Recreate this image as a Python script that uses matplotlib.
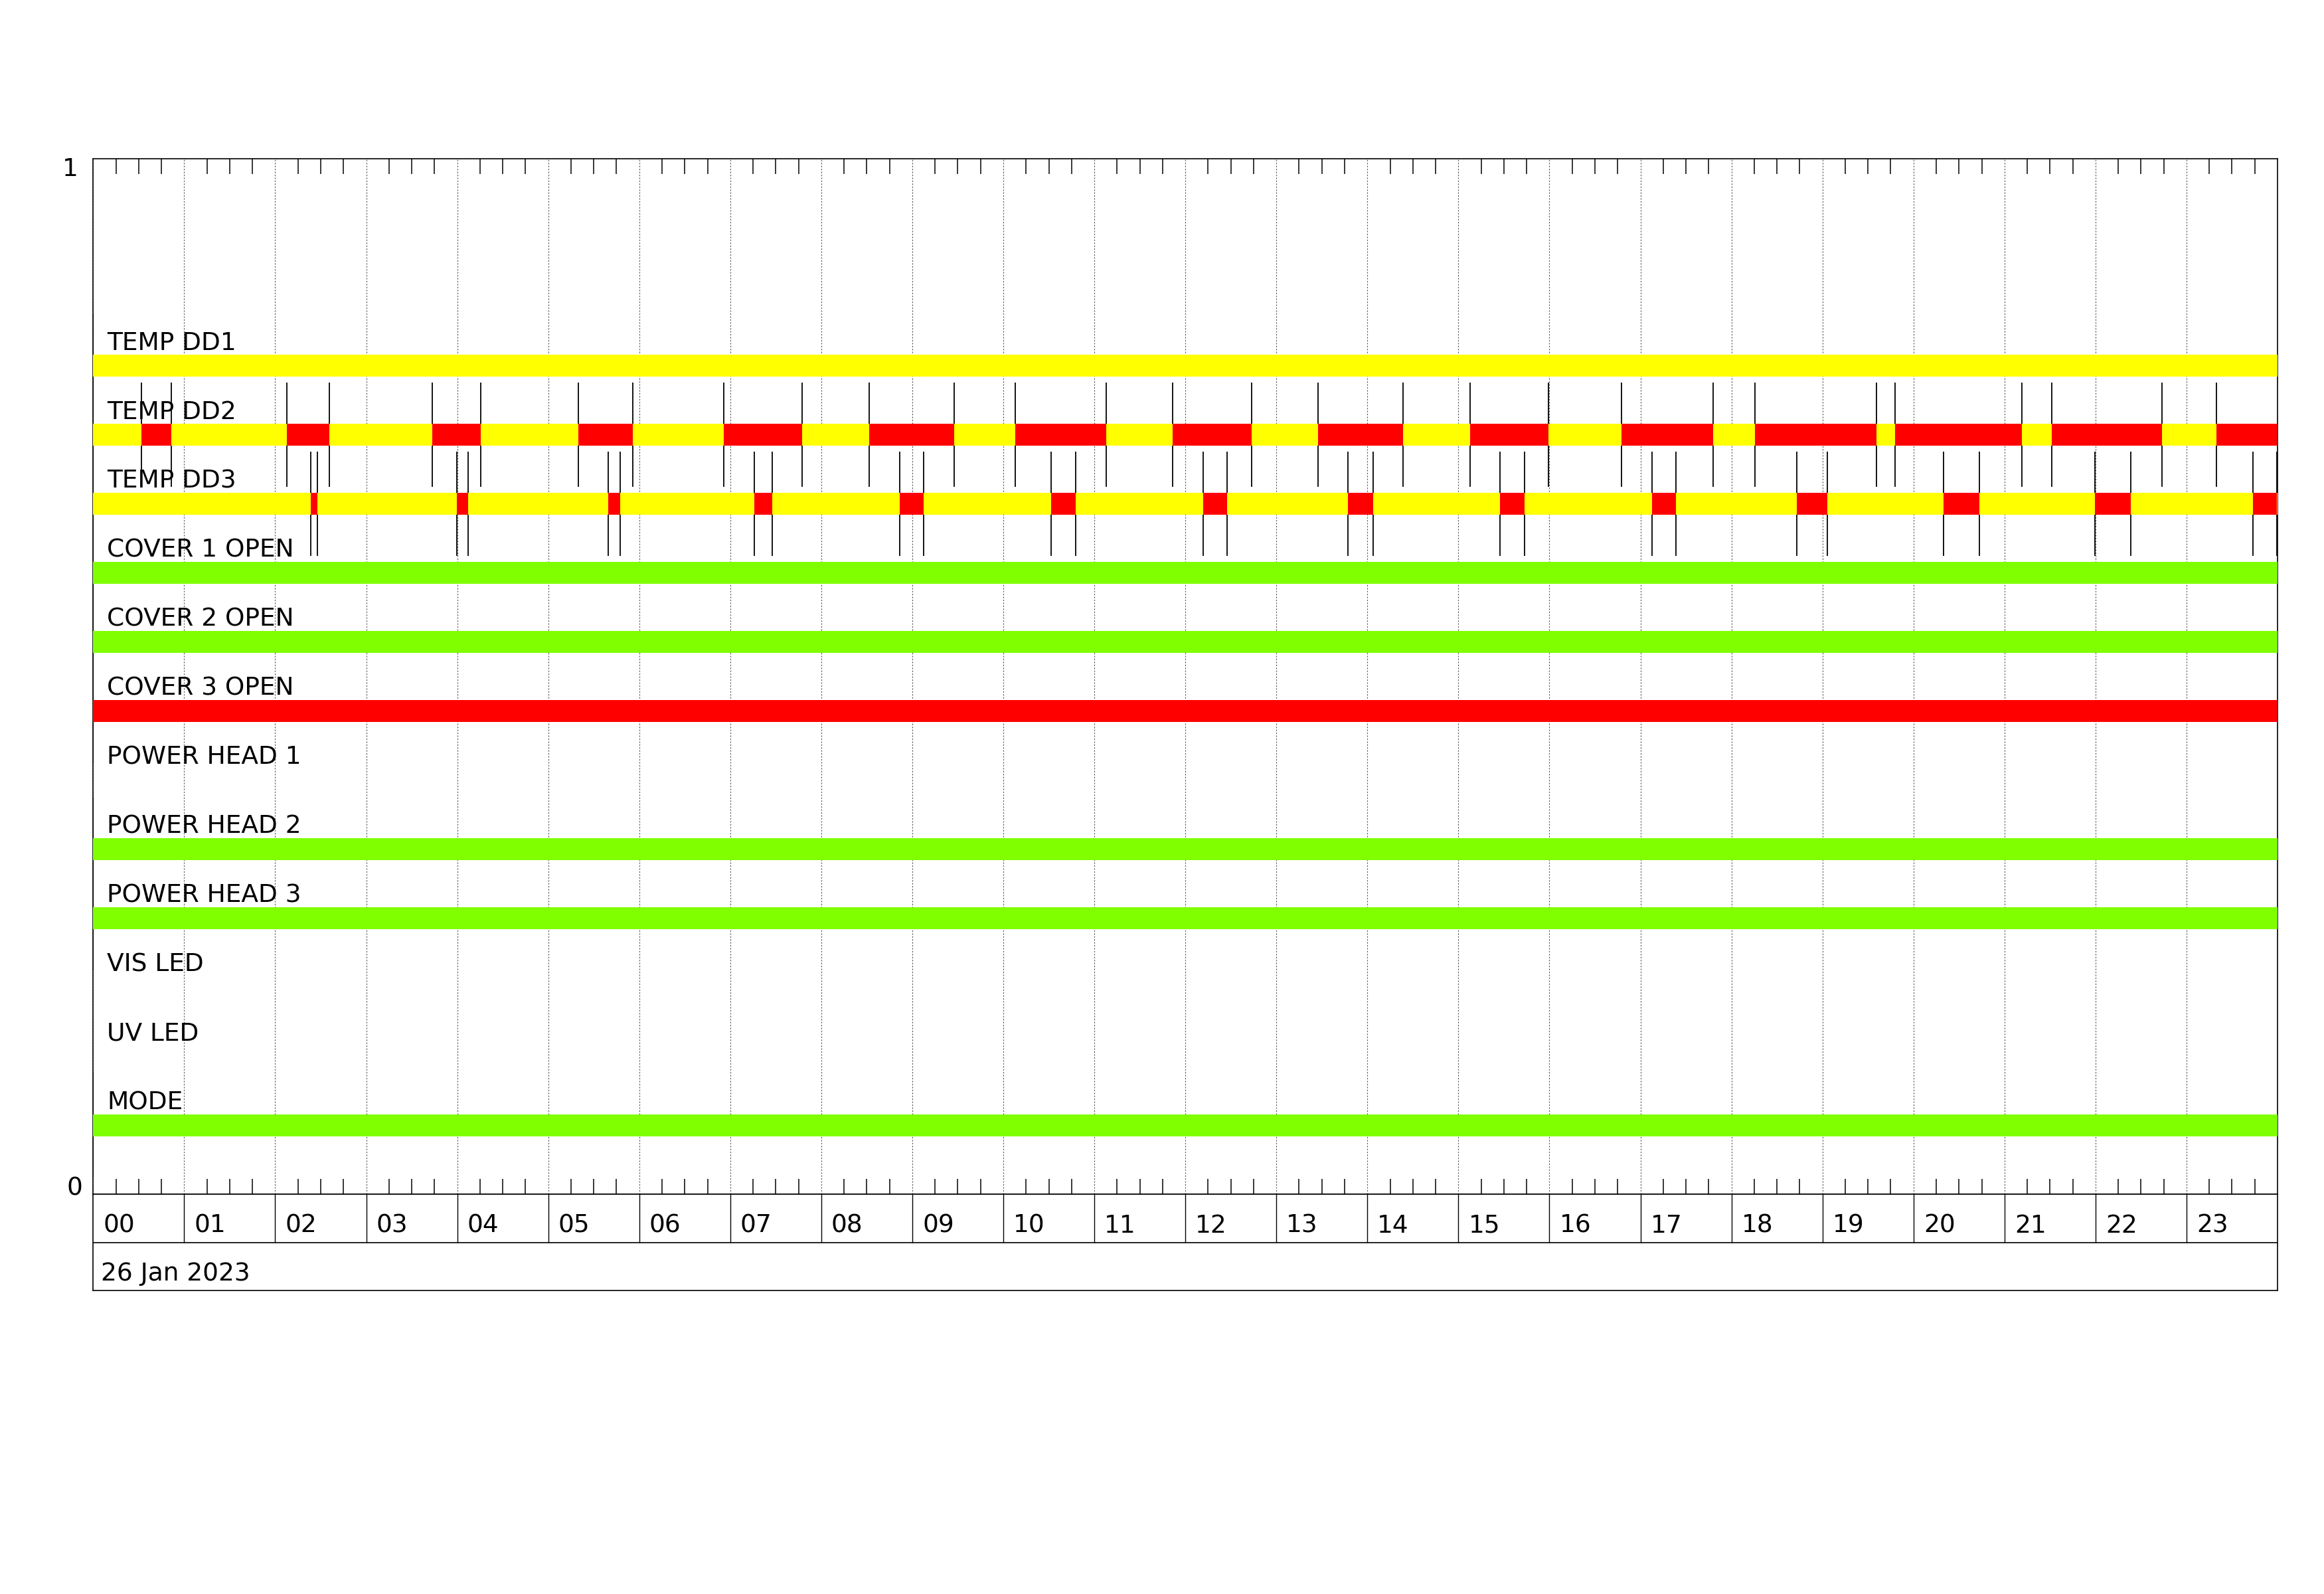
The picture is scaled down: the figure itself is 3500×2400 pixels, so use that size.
import matplotlib
matplotlib.use("Agg")
import matplotlib.pyplot as plt

# ---------------------------------------------------------------
#  DATA  (times in hours of 26 Jan 2023)
# ---------------------------------------------------------------
DATE_LABEL = "26 Jan 2023"
HOUR_LABELS = [f"{h:02d}" for h in range(24)]

ROW_LABELS = [
    "TEMP DD1", "TEMP DD2", "TEMP DD3",
    "COVER 1 OPEN", "COVER 2 OPEN", "COVER 3 OPEN",
    "POWER HEAD 1", "POWER HEAD 2", "POWER HEAD 3",
    "VIS LED", "UV LED", "MODE",
]

DD1_EDGES = [0.0, 24.0]
DD1_STATES = ["Y"]

DD2_EDGES = [0.0, 0.530, 0.857, 2.126, 2.592, 3.728, 4.255, 5.330, 5.928,
             6.926, 7.793, 8.525, 9.457, 10.131, 11.131, 11.858, 12.725,
             13.457, 14.389, 15.127, 15.991, 16.789, 17.800, 18.258, 19.592,
             19.798, 21.193, 21.523, 22.729, 23.326, 24.0]
DD2_STATES = ["Y", "R"] * 15

DD3_EDGES = [0.0, 2.392, 2.464, 3.994, 4.122, 5.657, 5.790, 7.263, 7.460,
             8.863, 9.125, 10.526, 10.794, 12.195, 12.457, 13.789, 14.062,
             15.460, 15.725, 17.124, 17.392, 18.721, 19.055, 20.328, 20.724,
             21.991, 22.388, 23.728, 23.990, 24.0]
DD3_STATES = ["Y", "R"] * 14 + ["Y"]

COVER1_EDGES, COVER1_STATES = [0.0, 24.0], ["G"]
COVER2_EDGES, COVER2_STATES = [0.0, 24.0], ["G"]
COVER3_EDGES, COVER3_STATES = [0.0, 24.0], ["R"]
HEAD2_EDGES, HEAD2_STATES = [0.0, 24.0], ["G"]
HEAD3_EDGES, HEAD3_STATES = [0.0, 24.0], ["G"]
MODE_EDGES, MODE_STATES = [0.0, 24.0], ["G"]

ROWS = {
    "TEMP DD1": (DD1_EDGES, DD1_STATES),
    "TEMP DD2": (DD2_EDGES, DD2_STATES),
    "TEMP DD3": (DD3_EDGES, DD3_STATES),
    "COVER 1 OPEN": (COVER1_EDGES, COVER1_STATES),
    "COVER 2 OPEN": (COVER2_EDGES, COVER2_STATES),
    "COVER 3 OPEN": (COVER3_EDGES, COVER3_STATES),
    "POWER HEAD 2": (HEAD2_EDGES, HEAD2_STATES),
    "POWER HEAD 3": (HEAD3_EDGES, HEAD3_STATES),
    "MODE": (MODE_EDGES, MODE_STATES),
}

COLORS = {"Y": "#FFFF00", "R": "#FF0000", "G": "#7FFF00"}

# ---------------------------------------------------------------
#  LAYOUT
# ---------------------------------------------------------------
W, H = 3500, 2400
AX_L, AX_R = 140.3, 3430.0
AX_TOP, AX_BOT = 239.0, 1798.0
DATE_BOT = 1943.0

N_SLOTS = 15
BAR_H = 0.0212
LINE_HALF = 0.755 / N_SLOTS
FS = 27

plt.rcParams["font.family"] = "DejaVu Sans"

fig = plt.figure(figsize=(W / 100, H / 100), dpi=100)
ax = fig.add_axes([AX_L / W, 1 - AX_BOT / H,
                   (AX_R - AX_L) / W, (AX_BOT - AX_TOP) / H])
ax.set_xlim(0, 24)
ax.set_ylim(0, 1)

# hour grid + quarter-hour ticks
ax.set_xticks(range(25))
ax.set_xticks([h + q for h in range(24) for q in (0.25, 0.5, 0.75)], minor=True)
ax.xaxis.grid(True, which="major", color="#555555", lw=0.8,
              linestyle=(0, (2, 2)), zorder=0)
ax.tick_params(axis="x", which="major", length=0, labelbottom=False)
ax.tick_params(axis="x", which="minor", direction="in", length=16.5,
               width=1.1, top=True, bottom=True)
ax.set_yticks([])
for sp in ax.spines.values():
    sp.set_linewidth(1.2)
ax.set_axisbelow(True)

for i, label in enumerate(ROW_LABELS):
    yc = (len(ROW_LABELS) - i) / N_SLOTS
    if label in ROWS:
        edges, states = ROWS[label]
        for e0, e1, st in zip(edges[:-1], edges[1:], states):
            ax.barh(yc, e1 - e0, left=e0, height=BAR_H, color=COLORS[st],
                    linewidth=0, zorder=3)
        ax.vlines(edges[:-1], yc - LINE_HALF, yc + LINE_HALF,
                  color="black", lw=1.3, zorder=2)
    ax.text(0.151, yc + 0.0154, label, fontsize=FS, va="baseline",
            ha="left", zorder=4)

fig.text(118 / W, 1 - 237 / H, "1", fontsize=FS, ha="right", va="top")
fig.text(124 / W, 1 - 1800 / H, "0", fontsize=FS, ha="right", va="baseline")

# time label boxes below the plot
axt = fig.add_axes([AX_L / W, 1 - DATE_BOT / H,
                    (AX_R - AX_L) / W, (DATE_BOT - AX_BOT) / H])
axt.set_xlim(0, 24)
axt.set_ylim(0, 2)
axt.set_xticks([])
axt.set_yticks([])
for sp in axt.spines.values():
    sp.set_linewidth(1.2)
axt.axhline(1, color="black", lw=1.2)
axt.vlines(range(1, 24), 1, 2, color="black", lw=1.0)
for h, lab in enumerate(HOUR_LABELS):
    axt.text(h + 0.11, 1.2, lab, fontsize=FS, va="baseline", ha="left")
axt.text(0.0875, 0.207, DATE_LABEL, fontsize=FS, va="baseline", ha="left")

fig.savefig("out.png", dpi=100, facecolor="white")
